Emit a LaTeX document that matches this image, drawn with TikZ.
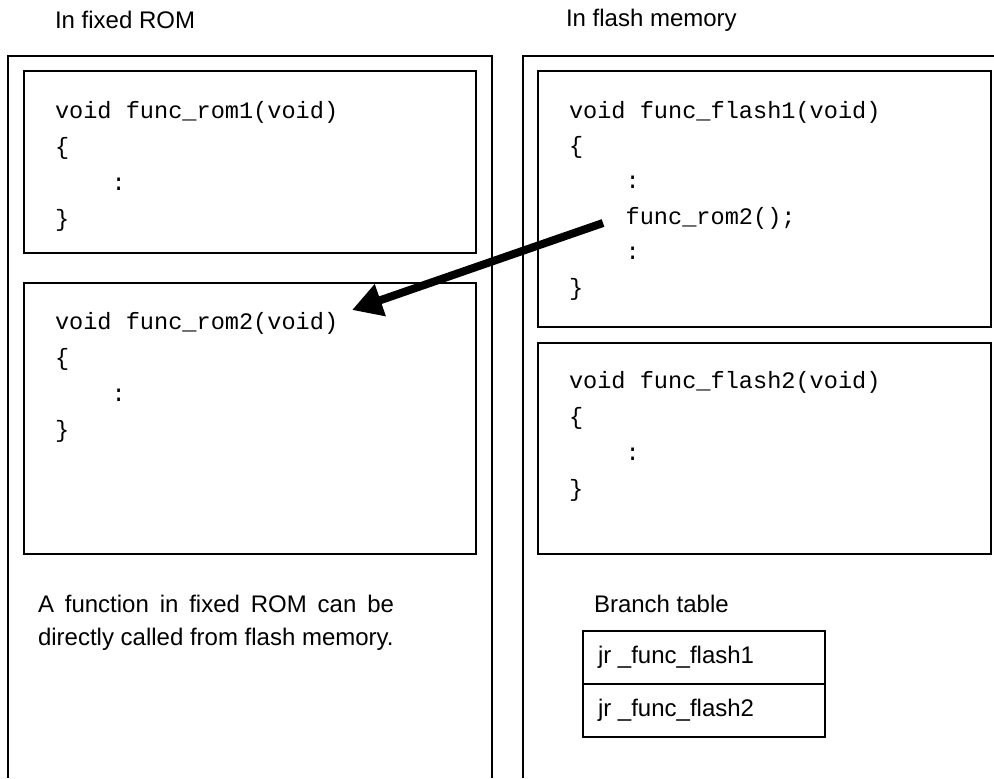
\documentclass[tikz,border=0pt]{standalone}
\usepackage{fontspec}
\setmainfont{Liberation Sans}
\setmonofont{Liberation Mono}
\usetikzlibrary{arrows.meta}

\newcommand{\codeind}{\phantom{0000}}

\tikzset{
  headtxt/.style={anchor=west, inner sep=0pt, font=\fontsize{12}{14}\selectfont},
  codetxt/.style={anchor=base west, inner sep=0pt, align=left},
  callarrow/.style={line width=4pt, -{Triangle[length=15pt,width=16pt]}},
}

\begin{document}
\begin{tikzpicture}[x=0.5pt, y=-0.5pt, line width=1pt]
    \useasboundingbox (0,0) rectangle (994,778);

    % Fixed ROM (code nodes sit on their last line)
    \draw (8,778) -- (8,56) -- (492,56) -- (492,778);
    \node[headtxt] (romhead) at (54,20) {In fixed ROM};
    \draw (24,71) rectangle (476,253);
    \node[codetxt, font=\fontsize{11.8}{18}\selectfont\ttfamily] (rom1) at (54,226)
        {void func\_rom1(void)\\\{\\\codeind:\\\}};
    \draw (24,283) rectangle (476,554);
    \node[codetxt, font=\fontsize{11.8}{18}\selectfont\ttfamily] (rom2) at (54,437)
        {void func\_rom2(void)\\\{\\\codeind:\\\}};
    \node[anchor=north west, inner sep=0pt, align=left,
          font=\fontsize{12}{16.5}\selectfont] (romnote) at (37,594)
        {\makebox[178pt][s]{A function in fixed ROM can be}\\directly called from flash memory.};

    % Flash memory
    \draw (523,778) -- (523,56) -- (994,56);
    \node[headtxt] (flashhead) at (565,20) {In flash memory};
    \draw (538,71) rectangle (991,327);
    \node[codetxt, font=\fontsize{11.8}{17.7}\selectfont\ttfamily] (flash1) at (568,295)
        {void func\_flash1(void)\\\{\\\codeind:\\\codeind func\_rom2();\\\codeind:\\\}};
    \draw (538,343) rectangle (991,554);
    \node[codetxt, font=\fontsize{11.8}{18}\selectfont\ttfamily] (flash2) at (568,496)
        {void func\_flash2(void)\\\{\\\codeind:\\\}};

    % Branch table
    \node[headtxt] (branchhead) at (593,604) {Branch table};
    \draw (583,631) rectangle (825,737);
    \draw (583,684) -- (825,684);
    \node[headtxt] (jr1) at (597,657) {jr \_func\_flash1};
    \node[headtxt] (jr2) at (597,710) {jr \_func\_flash2};

    % Call into ROM
    \coordinate (callfrom) at (603,223);
    \coordinate (callto) at (352,310);
    \draw[callarrow] (callfrom) -- (callto);
\end{tikzpicture}
\end{document}
